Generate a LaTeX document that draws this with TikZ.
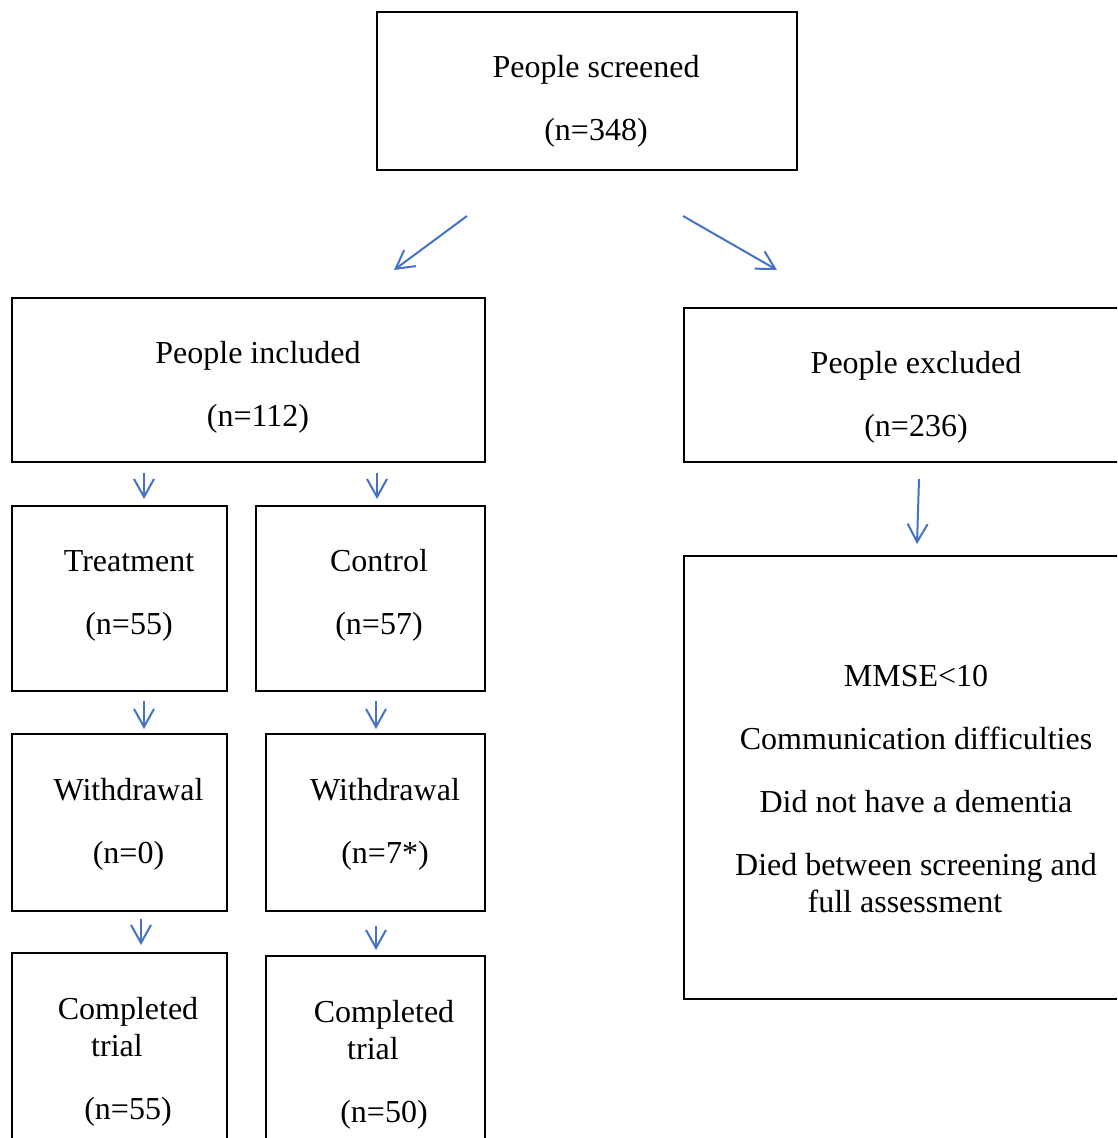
\documentclass[tikz,border=0pt]{standalone}
\usepackage{fontspec}
\setmainfont{Liberation Serif}
\usetikzlibrary{arrows.meta}
\definecolor{arrblue}{RGB}{68,114,196}

\begin{document}
\begin{tikzpicture}[x=0.5pt,y=-0.5pt,
    box/.style={draw,line width=1pt,inner sep=0pt},
    txt/.style={align=center,inner sep=0pt,font=\fontsize{16}{18.5}\selectfont},
    arr/.style={draw=arrblue,line width=1pt,-{Straight Barb[length=9pt,width=10pt]}}]
    \useasboundingbox (0,0) rectangle (1117,1138);
    \clip (0,0) rectangle (1117,1138);
    % boxes
    \node[box,minimum width=210pt,minimum height=79pt] (scr) at (587,91) {};
    \node[box,minimum width=236.5pt,minimum height=82pt] (inc) at (248.5,380) {};
    \node[box,minimum width=223pt,minimum height=77pt] (exc) at (907,385) {};
    \node[box,minimum width=107.5pt,minimum height=92.5pt] (trt) at (119.5,598.5) {};
    \node[box,minimum width=114.5pt,minimum height=92.5pt] (ctl) at (370.5,598.5) {};
    \node[box,minimum width=107.5pt,minimum height=88.5pt] (wdl) at (119.5,822.5) {};
    \node[box,minimum width=109.5pt,minimum height=88.5pt] (wdr) at (375.5,822.5) {};
    \node[box,minimum width=107.5pt,minimum height=103.5pt] (cpl) at (119.5,1056.5) {};
    \node[box,minimum width=109.5pt,minimum height=102pt] (cpr) at (375.5,1058) {};
    \node[box,minimum width=223pt,minimum height=221.5pt] (rsn) at (907,777.5) {};
    % texts
    \node[txt] (scr-t) at (596,101.5) {People screened\\[13pt](n=348)};
    \node[txt] (inc-t) at (258,387) {People included\\[13pt](n=112)};
    \node[txt] (exc-t) at (916,397.5) {People excluded\\[13pt](n=236)};
    \node[txt] (trt-t) at (129,595.5) {Treatment\\[13pt](n=55)};
    \node[txt] (ctl-t) at (379,595.5) {Control\\[13pt](n=57)};
    \node[txt] (wdl-t) at (128.5,824) {Withdrawal\\[13pt](n=0)};
    \node[txt] (wdr-t) at (385,824) {Withdrawal\\[13pt](n=7*)};
    \node[txt] (cpl-t) at (128,1061.5) {Completed\\trial\hspace*{11pt}\null\\[13pt](n=55)};
    \node[txt] (cpr-t) at (384,1064.5) {Completed\\trial\hspace*{11pt}\null\\[13pt](n=50)};
    \node[txt] (rsn-t) at (916,789.5) {MMSE<10\\[13pt]Communication difficulties\\[13pt]Did not have a dementia\\[13pt]Died between screening and\\full assessment\hspace*{11pt}\null};
    % arrows
    \draw[arr] ([shift={(91,45)}]scr.south west) -- ([shift={(383,-27)}]inc.north west);
    \draw[arr] ([shift={(307,45)}]scr.south west) -- ([shift={(94,-37)}]exc.north west);
    \draw[arr] ([shift={(133,10)}]inc.south west) -- ([shift={(133,-6)}]trt.north west);
    \draw[arr] ([shift={(366,10)}]inc.south west) -- ([shift={(122,-6)}]ctl.north west);
    \draw[arr] ([shift={(133,9)}]trt.south west) -- ([shift={(133,-4)}]wdl.north west);
    \draw[arr] ([shift={(121,9)}]ctl.south west) -- ([shift={(111,-4)}]wdr.north west);
    \draw[arr] ([shift={(130,7)}]wdl.south west) -- ([shift={(130,-7)}]cpl.north west);
    \draw[arr] ([shift={(111,14)}]wdr.south west) -- ([shift={(111,-5)}]cpr.north west);
    \draw[arr] ([shift={(236,16)}]exc.south west) -- ([shift={(234,-11)}]rsn.north west);
\end{tikzpicture}
\end{document}
